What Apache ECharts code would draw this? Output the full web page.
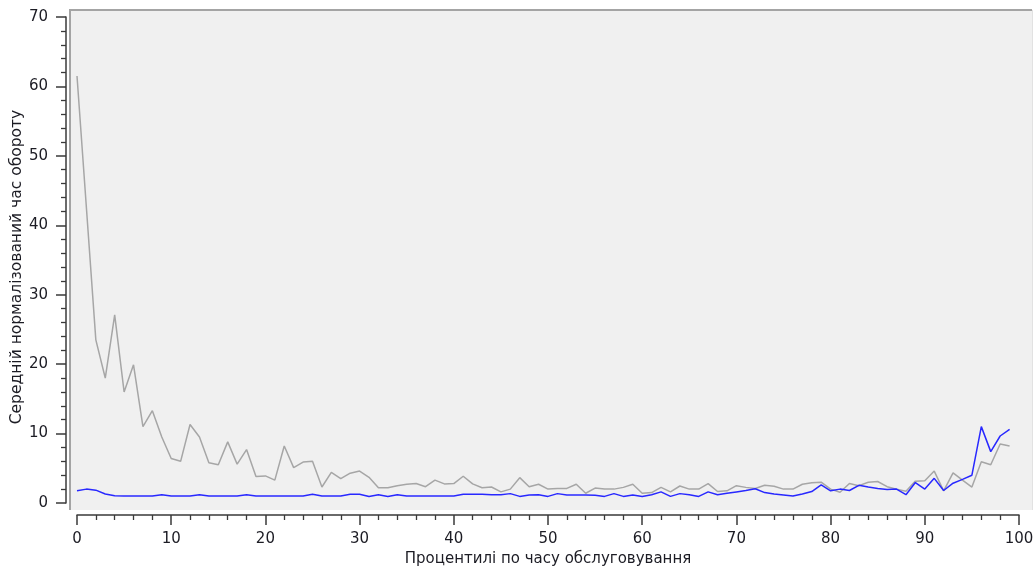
<!DOCTYPE html>
<html>
<head>
<meta charset="utf-8">
<title>Нормалізований час обороту</title>
<script src="https://cdn.jsdelivr.net/npm/echarts@6/dist/echarts.min.js"></script>
<style>
  html, body { margin: 0; padding: 0; background: #ffffff; }
  #chart { width: 1036px; height: 573px; }
</style>
</head>
<body>
<div id="chart"></div>
<script>
// Percentile index along the x axis (0..99)
const percentiles = Array.from({ length: 100 }, (_, i) => i);

// Mean normalised turnaround time, grey series
const greySeries = [
  61.5, 42.5, 23.5, 18.0, 27.1, 16.0, 19.9, 11.0, 13.3, 9.5,
  6.4, 6.0, 11.3, 9.5, 5.8, 5.5, 8.8, 5.6, 7.7, 3.8,
  3.9, 3.3, 8.2, 5.1, 5.9, 6.0, 2.3, 4.4, 3.5, 4.3,
  4.6, 3.7, 2.2, 2.2, 2.5, 2.7, 2.8, 2.35, 3.3, 2.75,
  2.8, 3.85, 2.75, 2.2, 2.3, 1.6, 2.0, 3.65, 2.35, 2.7,
  2.0, 2.1, 2.1, 2.7, 1.4, 2.15, 2.0, 2.0, 2.25, 2.7,
  1.4, 1.5, 2.25, 1.6, 2.45, 2.0, 2.0, 2.8, 1.65, 1.75,
  2.5, 2.25, 2.1, 2.55, 2.4, 2.0, 2.0, 2.7, 2.9, 3.0,
  2.0, 1.55, 2.8, 2.5, 3.0, 3.1, 2.35, 2.0, 1.7, 3.15,
  3.2, 4.6, 1.75, 4.35, 3.3, 2.3, 5.95, 5.5, 8.5, 8.2
];

// Mean normalised turnaround time, blue series
const blueSeries = [
  1.75, 2.0, 1.85, 1.3, 1.05, 1.0, 1.0, 1.0, 1.0, 1.2,
  1.0, 1.0, 1.0, 1.2, 1.0, 1.0, 1.0, 1.0, 1.2, 1.0,
  1.0, 1.0, 1.0, 1.0, 1.0, 1.25, 1.0, 1.0, 1.0, 1.25,
  1.25, 0.95, 1.2, 0.95, 1.2, 1.0, 1.0, 1.0, 1.0, 1.0,
  1.0, 1.25, 1.25, 1.25, 1.2, 1.2, 1.35, 0.95, 1.15, 1.2,
  0.95, 1.35, 1.15, 1.15, 1.15, 1.1, 0.95, 1.35, 0.95, 1.15,
  0.95, 1.2, 1.6, 0.95, 1.35, 1.2, 0.95, 1.6, 1.2, 1.4,
  1.6, 1.8, 2.05, 1.5, 1.3, 1.15, 1.0, 1.3, 1.65, 2.6,
  1.75, 2.0, 1.8, 2.55, 2.3, 2.1, 1.95, 2.0, 1.2, 2.95,
  2.0, 3.55, 1.8, 2.85, 3.4, 4.0, 11.0, 7.4, 9.65, 10.6
];

const xTitle = 'Процентилі по часу обслуговування';
const yTitle = 'Середній нормалізований час обороту';

const FONT = '"DejaVu Sans", Verdana, sans-serif';
const TEXT = '#1c1c24';
const AXIS = '#3a3a3a';

const chart = echarts.init(document.getElementById('chart'), null, { renderer: 'canvas' });

const toPairs = (vals) => vals.map((v, i) => [percentiles[i], v]);

chart.setOption({
  animation: false,
  backgroundColor: '#ffffff',
  textStyle: { fontFamily: FONT },
  graphic: {
    elements: [
      // plotting panel
      { type: 'rect', z: -10, shape: { x: 70, y: 10, width: 962, height: 500 },
        style: { fill: '#f0f0f0' } },
      { type: 'line', z: -9, shape: { x1: 70, y1: 10, x2: 70, y2: 510 },
        style: { stroke: '#a4a4a4', lineWidth: 2 } },
      { type: 'line', z: -9, shape: { x1: 69, y1: 10, x2: 1032, y2: 10 },
        style: { stroke: '#a4a4a4', lineWidth: 2 } },
      { type: 'line', z: -9, shape: { x1: 1032.5, y1: 10, x2: 1032.5, y2: 510 },
        style: { stroke: '#e2e2e2', lineWidth: 1 } }
    ]
  },
  grid: {
    left: 77, right: 17, top: 17, bottom: 70,
    containLabel: false,
    outerBoundsMode: 'none'
  },
  xAxis: {
    type: 'value',
    min: 0, max: 100, interval: 10,
    offset: 12,
    name: xTitle,
    nameLocation: 'middle',
    nameGap: 37,
    nameMoveOverlap: false,
    nameTextStyle: { fontFamily: FONT, fontSize: 15, color: TEXT },
    axisLine: { show: true, onZero: false, lineStyle: { color: AXIS, width: 1.5 } },
    axisTick: { show: true, length: 10, lineStyle: { color: AXIS, width: 1.5 } },
    minorTick: { show: true, splitNumber: 5, length: 5, lineStyle: { color: AXIS, width: 1.3 } },
    axisLabel: { margin: 17, fontFamily: FONT, fontSize: 15, color: TEXT },
    splitLine: { show: false }
  },
  yAxis: {
    type: 'value',
    min: 0, max: 70, interval: 10,
    offset: 11,
    name: yTitle,
    nameLocation: 'middle',
    nameGap: 41,
    nameMoveOverlap: false,
    nameTextStyle: { fontFamily: FONT, fontSize: 15.5, color: TEXT, padding: [0, 14, 0, 0] },
    axisLine: { show: true, onZero: false, lineStyle: { color: AXIS, width: 1.5 } },
    axisTick: { show: true, length: 10, lineStyle: { color: AXIS, width: 1.5 } },
    minorTick: { show: true, splitNumber: 5, length: 5, lineStyle: { color: AXIS, width: 1.3 } },
    axisLabel: { margin: 18, fontFamily: FONT, fontSize: 15, color: TEXT },
    splitLine: { show: false }
  },
  series: [
    {
      name: 'grey',
      type: 'line',
      data: toPairs(greySeries),
      showSymbol: false,
      symbol: 'none',
      lineStyle: { color: '#a6a6a6', width: 1.5 },
      z: 2
    },
    {
      name: 'blue',
      type: 'line',
      data: toPairs(blueSeries),
      showSymbol: false,
      symbol: 'none',
      lineStyle: { color: '#2828ff', width: 1.5 },
      z: 3
    }
  ]
});
</script>
</body>
</html>
